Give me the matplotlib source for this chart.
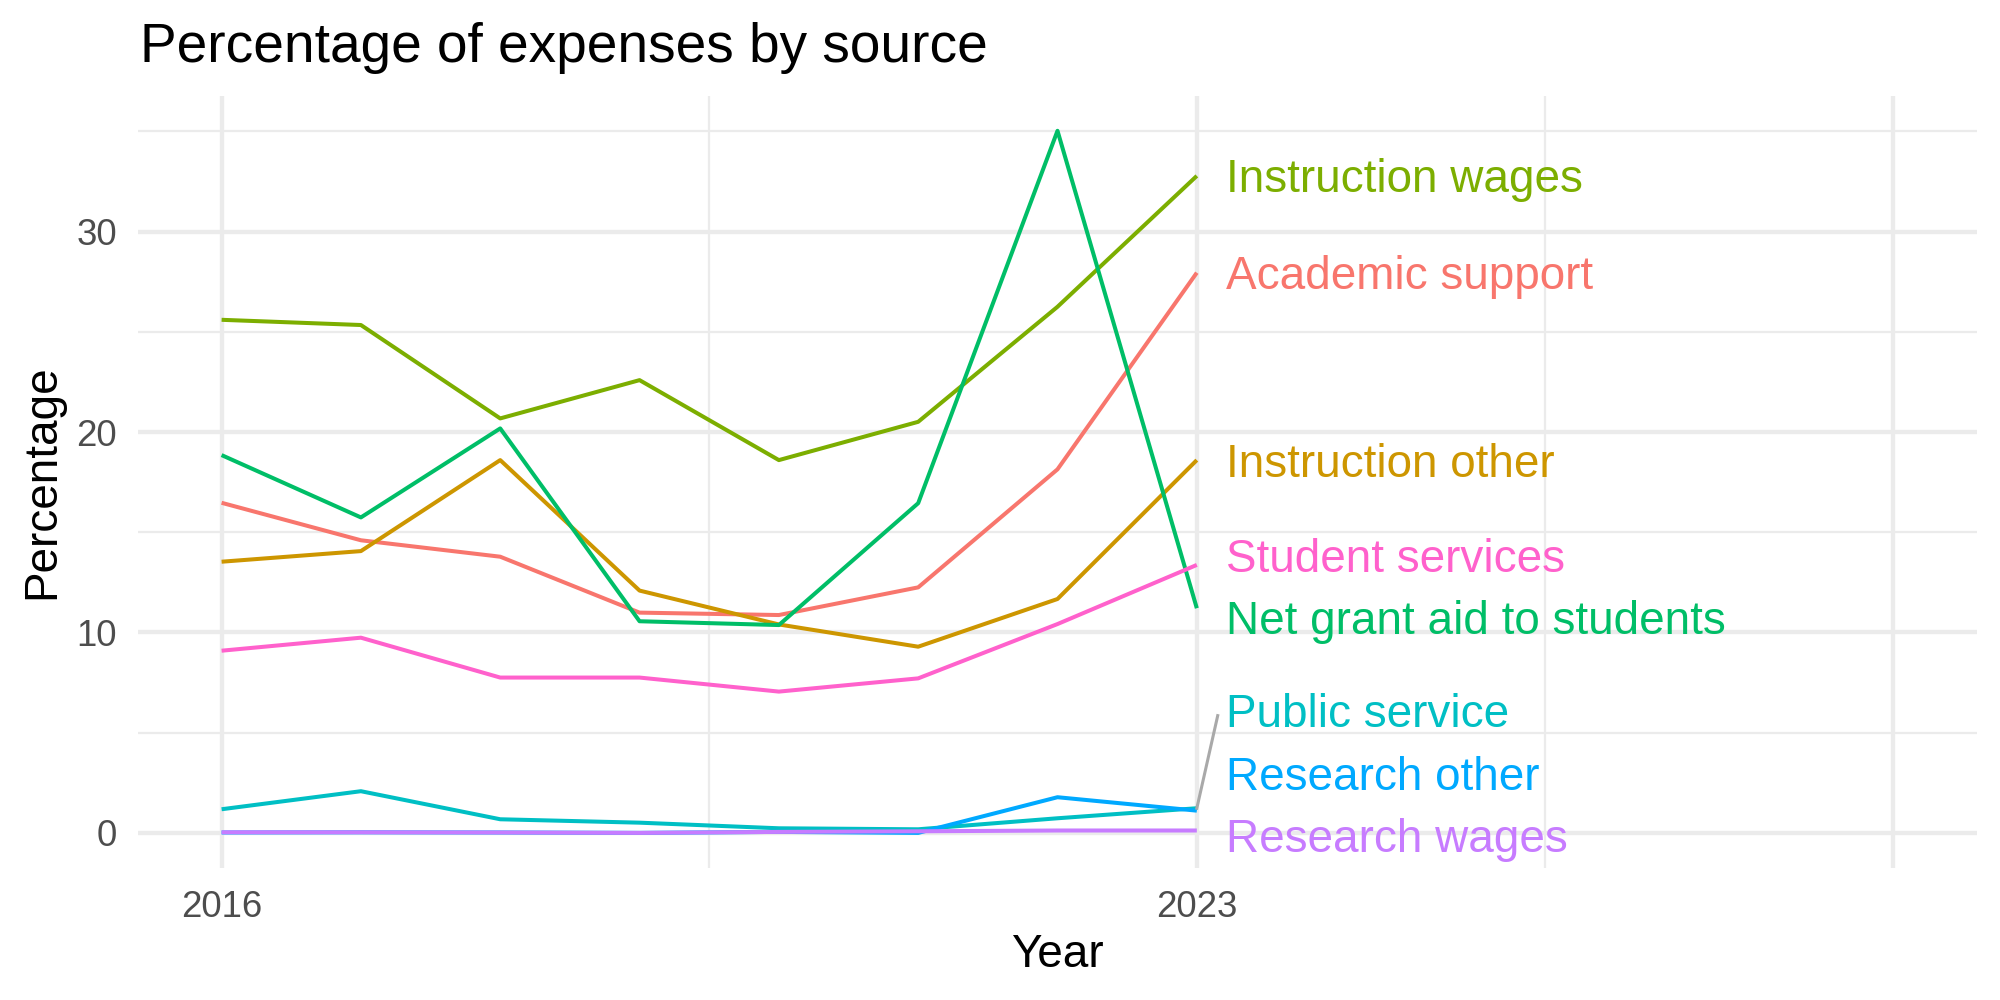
import matplotlib
matplotlib.use("Agg")
import matplotlib.pyplot as plt

# -------- DATA -------- #
years = [2016, 2017, 2018, 2019, 2020, 2021, 2022, 2023]

sources = ["Academic support", "Instruction other", "Instruction wages",
           "Net grant aid to students", "Public service", "Research other",
           "Research wages", "Student services"]

academic_support = [16.47, 14.60, 13.78, 10.99, 10.87, 12.25, 18.14, 27.95]
instruction_other = [13.53, 14.06, 18.60, 12.09, 10.40, 9.29, 11.67, 18.60]
instruction_wages = [25.60, 25.34, 20.68, 22.59, 18.60, 20.51, 26.25, 32.78]
net_grant_aid = [18.85, 15.74, 20.18, 10.56, 10.37, 16.45, 35.03, 11.21]
public_service = [1.18, 2.08, 0.68, 0.51, 0.23, 0.18, 0.73, 1.23]
research_other = [0.02, 0.03, 0.02, 0.00, 0.05, 0.00, 1.78, 1.11]
research_wages = [0.03, 0.03, 0.02, 0.00, 0.05, 0.08, 0.12, 0.12]
student_services = [9.09, 9.74, 7.75, 7.75, 7.05, 7.71, 10.42, 13.37]

series = [academic_support, instruction_other, instruction_wages, net_grant_aid,
          public_service, research_other, research_wages, student_services]

# ggplot hue palette (8 levels)
colors = ["#F8766D", "#CD9600", "#7CAE00", "#00BE67",
          "#00BFC4", "#00A9FF", "#C77CFF", "#FF61CC"]

x_breaks = [2016, 2023, 2028]
x_labels = ["2016", "2023", ""]
y_breaks = [0, 10, 20, 30]


# -------- SIMPLE LABEL REPEL -------- #
def repel(values, gap, lower):
    order = sorted(range(len(values)), key=lambda i: values[i])
    pos = {i: values[i] for i in order}
    for _ in range(300):
        for a, b in zip(order[:-1], order[1:]):
            d = pos[b] - pos[a]
            if d < gap:
                shift = (gap - d) / 2
                pos[a] -= shift
                pos[b] += shift
        for i in order:
            pos[i] = max(pos[i], lower)
    return [pos[i] for i in range(len(values))]


plt.rcParams['font.family'] = ['Liberation Sans', 'DejaVu Sans']

fig = plt.figure(figsize=(20, 10), dpi=100)
ax = fig.add_axes([0.069, 0.132, 0.9195, 0.7723])

for k, (name, vals) in enumerate(zip(sources, series)):
    ax.plot(years, vals, color=colors[k], lw=2.9, zorder=3 + k * 0.1,
            solid_capstyle='butt')

# labels at the end of each line
last_vals = [s[-1] for s in series]
label_y = repel(last_vals, gap=3.12, lower=-0.15)
label_x = years[-1] + 0.21
cap_half = 0.82  # half the cap height, in data units
for k, name in enumerate(sources):
    ax.text(label_x, label_y[k] - cap_half, name, color=colors[k], fontsize=33,
            ha='left', va='baseline', zorder=5)
    if abs(label_y[k] - last_vals[k]) > 3:
        ax.plot([years[-1], label_x - 0.06], [last_vals[k], label_y[k] - 0.24],
                color='#A9A9A9', lw=2.2, zorder=4)

# -------- AXES / GRID -------- #
data_max = max(max(s) for s in series)
data_min = min(min(s) for s in series)
yr = data_max - data_min
ax.set_ylim(data_min - 0.05 * yr, data_max + 0.05 * yr)
xr = x_breaks[-1] - years[0]
ax.set_xlim(years[0] - 0.05 * xr, x_breaks[-1] + 0.05 * xr)

ax.set_xticks(x_breaks)
ax.set_xticklabels(x_labels)
ax.set_xticks([2019.5, 2025.5], minor=True)
ax.set_yticks(y_breaks)
ax.set_yticks([5, 15, 25, 35], minor=True)

ax.grid(which='major', color='#EBEBEB', lw=3.1)
ax.grid(which='minor', color='#EBEBEB', lw=1.6)
ax.set_axisbelow(True)
for sp in ax.spines.values():
    sp.set_visible(False)

ax.tick_params(which='both', length=0)
ax.tick_params(axis='y', labelsize=26.4, labelcolor='#4D4D4D', pad=15)
ax.tick_params(axis='x', labelsize=26.4, labelcolor='#4D4D4D', pad=16)

fig.text(0.5288, 0.033, "Year", fontsize=33, ha='center', va='baseline')
fig.text(0.021, 0.518, "Percentage", fontsize=33, rotation=90,
         ha='center', va='center')
fig.text(0.07, 0.938, "Percentage of expenses by source", fontsize=39.6,
         ha='left', va='baseline')

fig.savefig("out.png", dpi=100, facecolor='white')
